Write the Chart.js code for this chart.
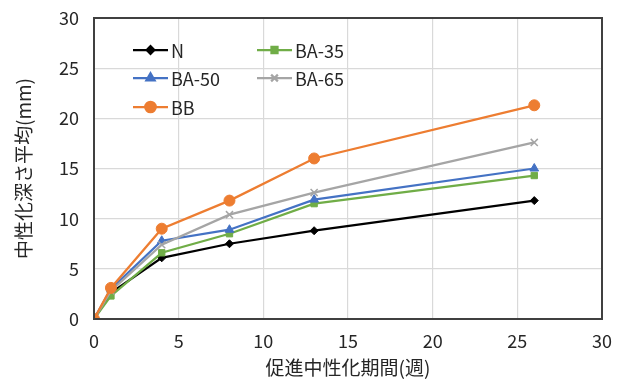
<!DOCTYPE html>
<html>
<head>
<meta charset="utf-8">
<script src="https://cdn.jsdelivr.net/npm/chart.js@4/dist/chart.umd.min.js"></script>
<style>
  html, body { margin: 0; padding: 0; background: #fff; }
  #wrap { width: 629px; height: 383px; position: relative; }
</style>
</head>
<body>
<div id="wrap"><canvas id="grafica"></canvas></div>
<script>
// 促進期間(週)
const semanas = [0, 1, 4, 8, 13, 26];

const nombres = ["N", "BA-35", "BA-50", "BA-65", "BB"];
const serieN    = [0, 2.6, 6.1, 7.5, 8.8, 11.8];
const serieBA35 = [0, 2.3, 6.6, 8.5, 11.5, 14.3];
const serieBA50 = [0, 3.0, 7.8, 8.9, 11.9, 15.0];
const serieBA65 = [0, 2.8, 7.4, 10.4, 12.6, 17.6];
const serieBB   = [0, 3.1, 9.0, 11.8, 16.0, 21.3];

const colores = ["#000000", "#70ad47", "#4472c4", "#a5a5a5", "#ed7d31"];
const marcas = ["rectRot", "rect", "triangle", "crossRot", "circle"];
const radios = [4, 4.5, 5, 5, 5.5];

const ticksX = [0, 5, 10, 15, 20, 25, 30];
const ticksY = [0, 5, 10, 15, 20, 25, 30];

const fuente = "'Noto Sans CJK JP', 'Noto Sans', sans-serif";
const colorTexto = "#262626";

const series = [serieN, serieBA35, serieBA50, serieBA65, serieBB];

const datasets = series.map((valores, i) => ({
    label: nombres[i],
    data: valores.map((v, j) => ({ x: semanas[j], y: v })),
    borderColor: colores[i],
    backgroundColor: colores[i],
    borderWidth: 2.25,
    pointStyle: marcas[i],
    pointRadius: radios[i],
    pointBorderWidth: marcas[i] === "crossRot" ? 1.5 : 1,
    order: series.length - i,
    tension: 0
}));

// marco del area de trazado + leyenda dentro
const marcoYLeyenda = {
    id: "marcoYLeyenda",
    afterDatasetsDraw(chart) {
        const ctx = chart.ctx;
        const a = chart.chartArea;
        ctx.save();
        ctx.strokeStyle = "#404040";
        ctx.lineWidth = 2;
        ctx.strokeRect(a.left, a.top, a.right - a.left, a.bottom - a.top);

        const cols = [a.left + 39, a.left + 163];
        const filas = [a.top + 32, a.top + 60, a.top + 89];
        ctx.font = "18px " + fuente;
        ctx.textBaseline = "middle";
        chart.data.datasets.forEach((ds, i) => {
            const x = cols[i % 2];
            const y = filas[Math.floor(i / 2)];
            ctx.strokeStyle = ds.borderColor;
            ctx.fillStyle = ds.backgroundColor;
            ctx.lineWidth = 2.25;
            ctx.beginPath();
            ctx.moveTo(x, y);
            ctx.lineTo(x + 35, y);
            ctx.stroke();
            Chart.helpers.drawPoint(ctx, {
                pointStyle: ds.pointStyle,
                radius: ds.pointRadius * 0.95,
                borderWidth: ds.pointBorderWidth,
                rotation: 0
            }, x + 17.5, y);
            ctx.fillStyle = colorTexto;
            ctx.fillText(ds.label, x + 38, y + 1);
        });
        ctx.restore();
    }
};

new Chart(document.getElementById("grafica"), {
    type: "line",
    data: { datasets },
    plugins: [marcoYLeyenda],
    options: {
        responsive: true,
        maintainAspectRatio: false,
        animation: false,
        layout: { padding: { top: 18, right: 27, left: 0, bottom: 0 } },
        plugins: {
            legend: { display: false },
            tooltip: { enabled: false }
        },
        scales: {
            x: {
                type: "linear",
                min: 0,
                max: 30,
                afterBuildTicks: s => { s.ticks = ticksX.map(v => ({ value: v })); },
                afterFit: s => { s.height = 64; s.paddingRight = 0; s.paddingLeft = 0; },
                grid: { color: "#d9d9d9", lineWidth: 1.2, drawTicks: false },
                border: { display: false },
                ticks: { padding: 11, color: colorTexto, font: { family: fuente, size: 18 } },
                title: {
                    display: true,
                    text: "促進中性化期間(週)",
                    color: colorTexto,
                    font: { family: fuente, size: 19 },
                    padding: { top: 0, bottom: 4 }
                }
            },
            y: {
                min: 0,
                max: 30,
                afterBuildTicks: s => { s.ticks = ticksY.map(v => ({ value: v })); },
                afterFit: s => { s.width = 94; s.paddingTop = 0; s.paddingBottom = 0; },
                grid: { color: "#d9d9d9", lineWidth: 1.2, drawTicks: false },
                border: { display: false },
                ticks: { padding: 15, color: colorTexto, font: { family: fuente, size: 18 } },
                title: {
                    display: true,
                    text: "中性化深さ平均(mm)",
                    color: colorTexto,
                    font: { family: fuente, size: 19 },
                    padding: { top: 12, bottom: 0 }
                }
            }
        }
    }
});
</script>
</body>
</html>
